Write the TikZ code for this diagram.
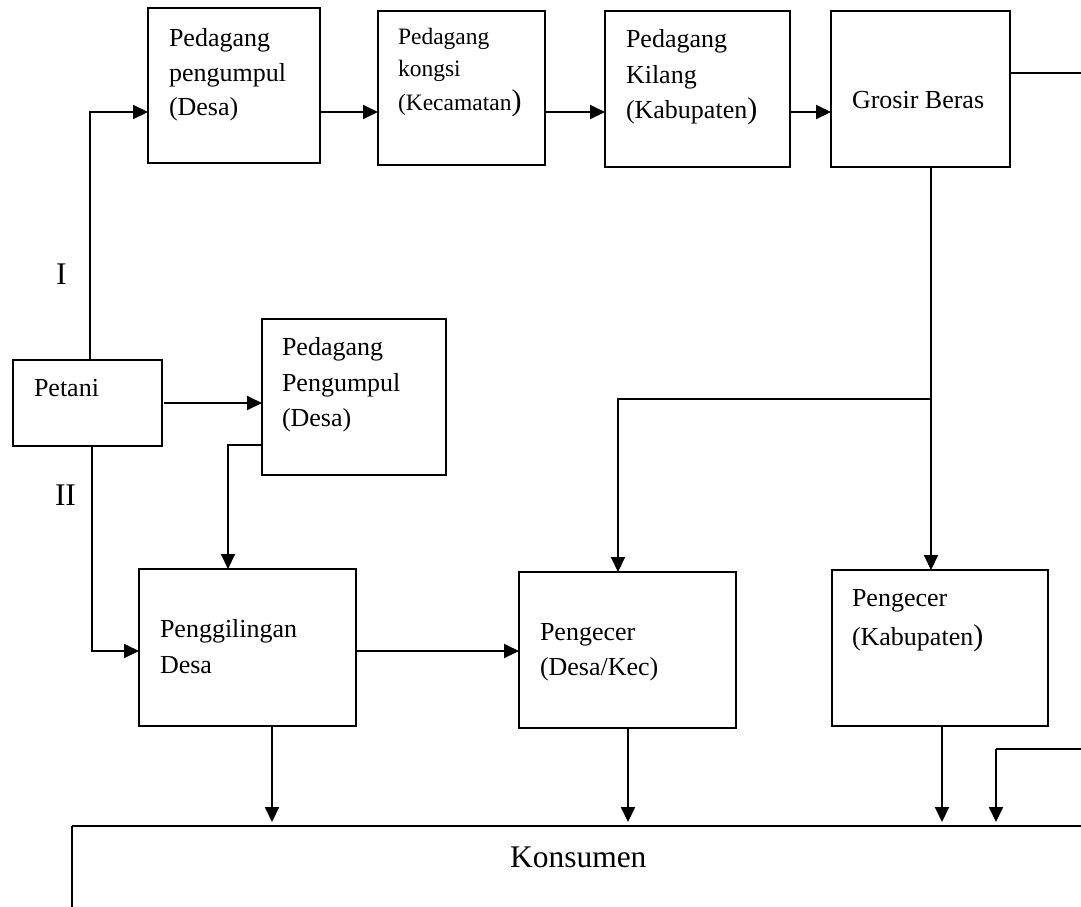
\documentclass[tikz,border=0pt]{standalone}
\usepackage{fontspec}
\setmainfont{Liberation Serif}
\usetikzlibrary{arrows.meta}
\newcommand{\fsz}[1]{\fontsize{#1}{#1}\selectfont}
\newcommand{\bigparen}{{\fontsize{30}{30}\selectfont)}}

\begin{document}
\begin{tikzpicture}[x=1pt,y=-1pt,
  box/.style={draw, line width=2pt, inner sep=0pt, outer sep=0pt, anchor=north west},
  lbl/.style={anchor=base west, inner sep=0pt, outer sep=0pt, font=\fsz{26}},
  smalllbl/.style={lbl, font=\fsz{23.5}},
  biglbl/.style={lbl, font=\fsz{31.5}},
  conn/.style={line width=2pt},
  thinconn/.style={line width=1.3pt},
  arr/.style={conn, -{Triangle[length=15pt,width=14pt]}},
]
\useasboundingbox (0,0) rectangle (1081,906);
\clip (0,0) rectangle (1081,906);

% ---- boxes ----
\node[box, minimum width=172pt, minimum height=155pt] (A) at (148,8) {};
\node[box, minimum width=167pt, minimum height=154pt] (B) at (378,11) {};
\node[box, minimum width=185pt, minimum height=156pt] (C) at (605,11) {};
\node[box, minimum width=179pt, minimum height=156pt] (D) at (831,11) {};
\node[box, minimum width=149pt, minimum height=86pt]  (petani) at (13,360) {};
\node[box, minimum width=184pt, minimum height=156pt] (pp) at (262,319) {};
\node[box, minimum width=217pt, minimum height=157pt] (mill) at (139,569) {};
\node[box, minimum width=217pt, minimum height=156pt] (retdesa) at (519,572) {};
\node[box, minimum width=216pt, minimum height=156pt] (retkab) at (832,570) {};
% consumer block, running off the right and bottom edges
\node[anchor=north west, inner sep=0pt, outer sep=0pt,
      minimum width=1040pt, minimum height=120pt] (kons) at (72,826) {};
\draw[conn] (kons.north west) -- (kons.north east);
\draw[thinconn] (kons.north west) -- (kons.south west);

% ---- texts ----
\node[lbl] (a1) at (169,46) {Pedagang};
\node[lbl] (a2) at (169,81) {pengumpul};
\node[lbl] (a3) at (169,115) {(Desa)};

\node[smalllbl] (b1) at (398,44) {Pedagang};
\node[smalllbl] (b2) at (398,76) {kongsi};
\node[smalllbl] (b3) at (398,110) {(Kecamatan\bigparen};

\node[lbl] (c1) at (626,47) {Pedagang};
\node[lbl] (c2) at (626,83) {Kilang};
\node[lbl] (c3) at (626,118) {(Kabupaten\bigparen};

\node[lbl] (d1) at (852,108) {Grosir Beras};

\node[lbl] (p1) at (34,396) {Petani};

\node[lbl] (q1) at (282,355) {Pedagang};
\node[lbl] (q2) at (282,391) {Pengumpul};
\node[lbl] (q3) at (282,426) {(Desa)};

\node[lbl] (m1) at (160,637) {Penggilingan};
\node[lbl] (m2) at (160,673) {Desa};

\node[lbl] (r1) at (540,640) {Pengecer};
\node[lbl] (r2) at (540,675) {(Desa/Kec)};

\node[lbl] (k1) at (852,606) {Pengecer};
\node[lbl] (k2) at (852,645) {(Kabupaten\bigparen};

\node[biglbl] (kt) at (510,867) {Konsumen};

\node[biglbl] (lI) at (56,284) {I};
\node[biglbl] (lII) at (55,505) {II};

% ---- routing points ----
\coordinate (xI) at (90,0);
\coordinate (yTop) at (0,112);
\coordinate (xII) at (92,0);
\coordinate (yMill) at (0,651);
\coordinate (yPP) at (0,445);
\coordinate (xPP) at (228,0);
\coordinate (xG) at (931,0);
\coordinate (split) at (931,399);
\coordinate (xRD) at (618,0);
\coordinate (xM) at (272,0);
\coordinate (xR) at (628,0);
\coordinate (xK) at (942,0);
\coordinate (xE) at (996,0);
\coordinate (edgeTop) at (1081,73);
\coordinate (edgeLow) at (1081,749);

% ---- connectors ----
\draw[arr] (petani.north -| xI) |- (A.west |- yTop);
\draw[arr] (A.east |- yTop) -- (B.west |- yTop);
\draw[arr] (B.east |- yTop) -- (C.west |- yTop);
\draw[arr] (C.east |- yTop) -- (D.west |- yTop);
\draw[thinconn] (D.east |- edgeTop) -- (edgeTop);

\draw[arr] (D.south -| xG) -- (retkab.north -| xG);
\draw[arr] (split) -| (retdesa.north -| xRD);

\draw[arr] ([xshift=2pt]petani.east) -- (pp.west |- petani.east);
\draw[arr] (pp.west |- yPP) -| (mill.north -| xPP);
\draw[arr] (petani.south -| xII) |- (mill.west |- yMill);
\draw[arr] (mill.east |- yMill) -- (retdesa.west |- yMill);

\draw[arr, shorten >=4pt] (mill.south -| xM) -- (kons.north -| xM);
\draw[arr, shorten >=4pt] (retdesa.south -| xR) -- (kons.north -| xR);
\draw[arr, shorten >=4pt] (retkab.south -| xK) -- (kons.north -| xK);
\draw[thinconn] (edgeLow) -- (edgeLow -| xE);
\draw[arr, shorten >=4pt] (edgeLow -| xE) -- (kons.north -| xE);
\end{tikzpicture}
\end{document}
